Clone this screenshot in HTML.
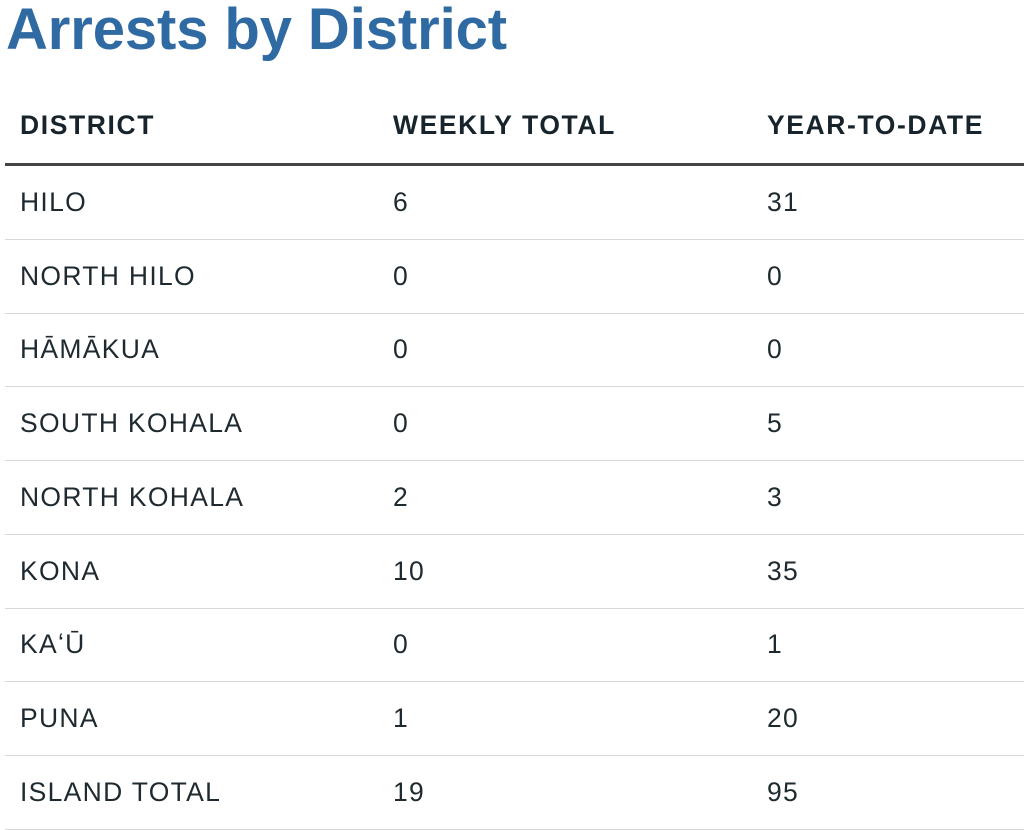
<!DOCTYPE html>
<html><head><meta charset="utf-8"><style>
body{margin:0;width:1024px;height:830px;background:#fff;overflow:hidden;font-family:"Liberation Sans",sans-serif;position:relative}
h1{position:absolute;left:6px;top:-4px;margin:0;font-size:58px;font-weight:bold;color:#2f6aa3;letter-spacing:-0.1px}
.hdr,.row{position:absolute;left:5px;width:1019px}
.hdr{top:100px;height:63px;border-bottom:3px solid #444}
.row{height:73px;border-bottom:1px solid #d8d8d8}
.c{position:absolute;font-size:26.5px;color:#1e2a30;white-space:nowrap;letter-spacing:1.3px}
.hdr .c{font-weight:bold;top:10px;color:#17242c;letter-spacing:1.6px}
.row .c{top:21px}
.c1{left:15px}.c2{left:388px}.c3{left:762px}
</style></head><body>
<h1>Arrests by District</h1>
<div class="hdr">
<span class="c c1">DISTRICT</span>
<span class="c c2">WEEKLY TOTAL</span>
<span class="c c3">YEAR-TO-DATE</span>
</div>
<div id="rows"></div>
<script>
const districts=["HILO","NORTH HILO","HĀMĀKUA","SOUTH KOHALA","NORTH KOHALA","KONA","KAʻŪ","PUNA","ISLAND TOTAL"];
const weekly=[6,0,0,0,2,10,0,1,19];
const ytd=[31,0,0,5,3,35,1,20,95];
const rows=document.getElementById('rows');
districts.forEach((d,i)=>{
  const r=document.createElement('div');
  r.className='row';
  r.style.top=(166+i*73.7)+'px';
  
  
  const vals=[d,weekly[i],ytd[i]];
  vals.forEach((v,j)=>{
    const s=document.createElement('span');
    s.className='c c'+(j+1);
    s.textContent=v;
    
    
    r.appendChild(s);
  });
  rows.appendChild(r);
});
</script>
</body></html>
